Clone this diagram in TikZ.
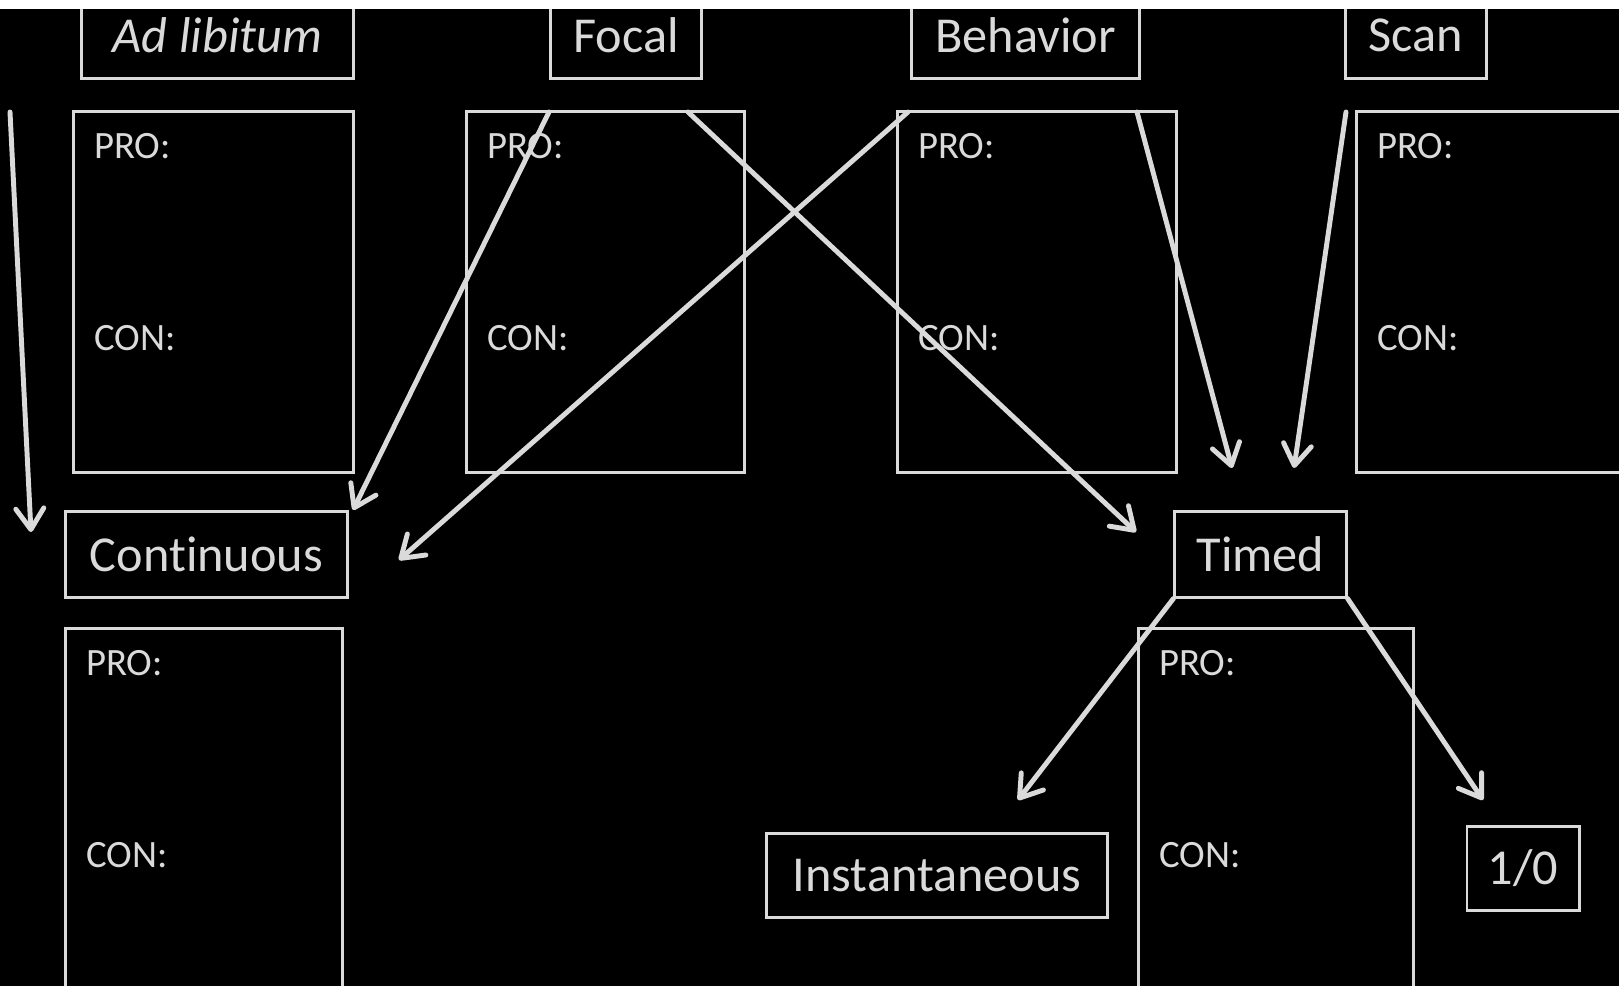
\documentclass[tikz,border=0pt]{standalone}
\usepackage{fontspec}
\setmainfont{Carlito}[Ligatures=NoCommon]
\usetikzlibrary{arrows.meta,positioning}
\definecolor{ink}{HTML}{DADADA}

\begin{document}
\begin{tikzpicture}[x=0.01cm, y=-0.01cm, every node/.style={font=\fontsize{14.3}{17}\selectfont, text=ink}]
\tikzset{method/.style={draw=ink, line width=0.85pt, minimum height=0.85cm, inner sep=0pt},
  sheet/.style={draw=ink, line width=0.85pt, minimum height=3.6cm, minimum width=2.78cm, inner sep=0pt},
  note/.style={font=\fontsize{11}{13}\selectfont, inner sep=0pt, anchor=north west},
  pointer/.style={draw=ink, line width=1.4pt, line cap=round,
    -{Straight Barb[length=0.21cm, width=0.28cm, line cap=round, line join=round]}}}
% page: thin white strip on top, black below
\fill[white] (0,0) rectangle (1619,986);
\fill[black] (0,9.5) rectangle (1619,986);
\useasboundingbox (0,0) rectangle (1619,986);
\clip (0,9.5) rectangle (1619,986);

% sampling methods
\node[method, minimum width=2.71cm] (adlib) at (217.5,35.5) {\itshape Ad libitum};
\node[method, minimum width=1.50cm] (focal) at (626,35.5) {Focal};
\node[method, minimum width=2.27cm] (behavior) at (1025.5,35.5) {Behavior};
\node[method, minimum width=1.40cm] (scan) at (1416,35.5) {Scan};

% recording rules
\node[method, minimum width=2.81cm] (continuous) at (206.5,554.5) {Continuous};
\node[method, minimum width=1.71cm] (timed) at (1260.5,554.5) {Timed};
\node[method, minimum width=3.40cm, minimum height=0.83cm] (instant) at (937,875.5) {Instantaneous};
\node[method, minimum width=1.12cm, minimum height=0.83cm] (onezero) at (1523,868.5) {1/0};

% pro / con sheets
\node[sheet, minimum width=2.79cm] (b1) at (213.5,292) {};
\node[sheet, minimum width=2.77cm] (b2) at (605.5,292) {};
\node[sheet] (b3) at (1037,292) {};
\node[sheet] (b4) at (1496,292) {};
\node[sheet, minimum width=2.76cm] (b5) at (204,809) {};
\node[sheet, minimum width=2.74cm] (b6) at (1276,809) {};
\foreach \b in {b1,b2,b3,b4,b5,b6} {
  \node[note, below right=0.22cm and 0.21cm of \b.north west] (\b pro) {PRO:};
  \node[note, below right=2.14cm and 0.21cm of \b.north west] (\b con) {CON:};
}

% arrow ends
\coordinate (adlibtail) at (10,112);
\coordinate (adlibtip) at (31,532);
\coordinate (focaltail) at (549,112);
\coordinate (focaltip) at (353,510);
\coordinate (behavtail) at (908,112);
\coordinate (behavtip) at (399,560);
\coordinate (focaltail2) at (688,112);
\coordinate (focaltip2) at (1136,532);
\coordinate (behavtail2) at (1137,112);
\coordinate (behavtip2) at (1232,468);
\coordinate (scantail) at (1346,112);
\coordinate (scantip) at (1294,468);
\coordinate (instanttip) at (1018,800);
\coordinate (onezerotip) at (1483,800);

\draw[pointer] (adlibtail) -- (adlibtip);
\draw[pointer] (focaltail) -- (focaltip);
\draw[pointer] (behavtail) -- (behavtip);
\draw[pointer] (focaltail2) -- (focaltip2);
\draw[pointer] (behavtail2) -- (behavtip2);
\draw[pointer] (scantail) -- (scantip);
\draw[pointer] (timed.south west) -- (instanttip);
\draw[pointer] (timed.south east) -- (onezerotip);
\end{tikzpicture}
\end{document}
